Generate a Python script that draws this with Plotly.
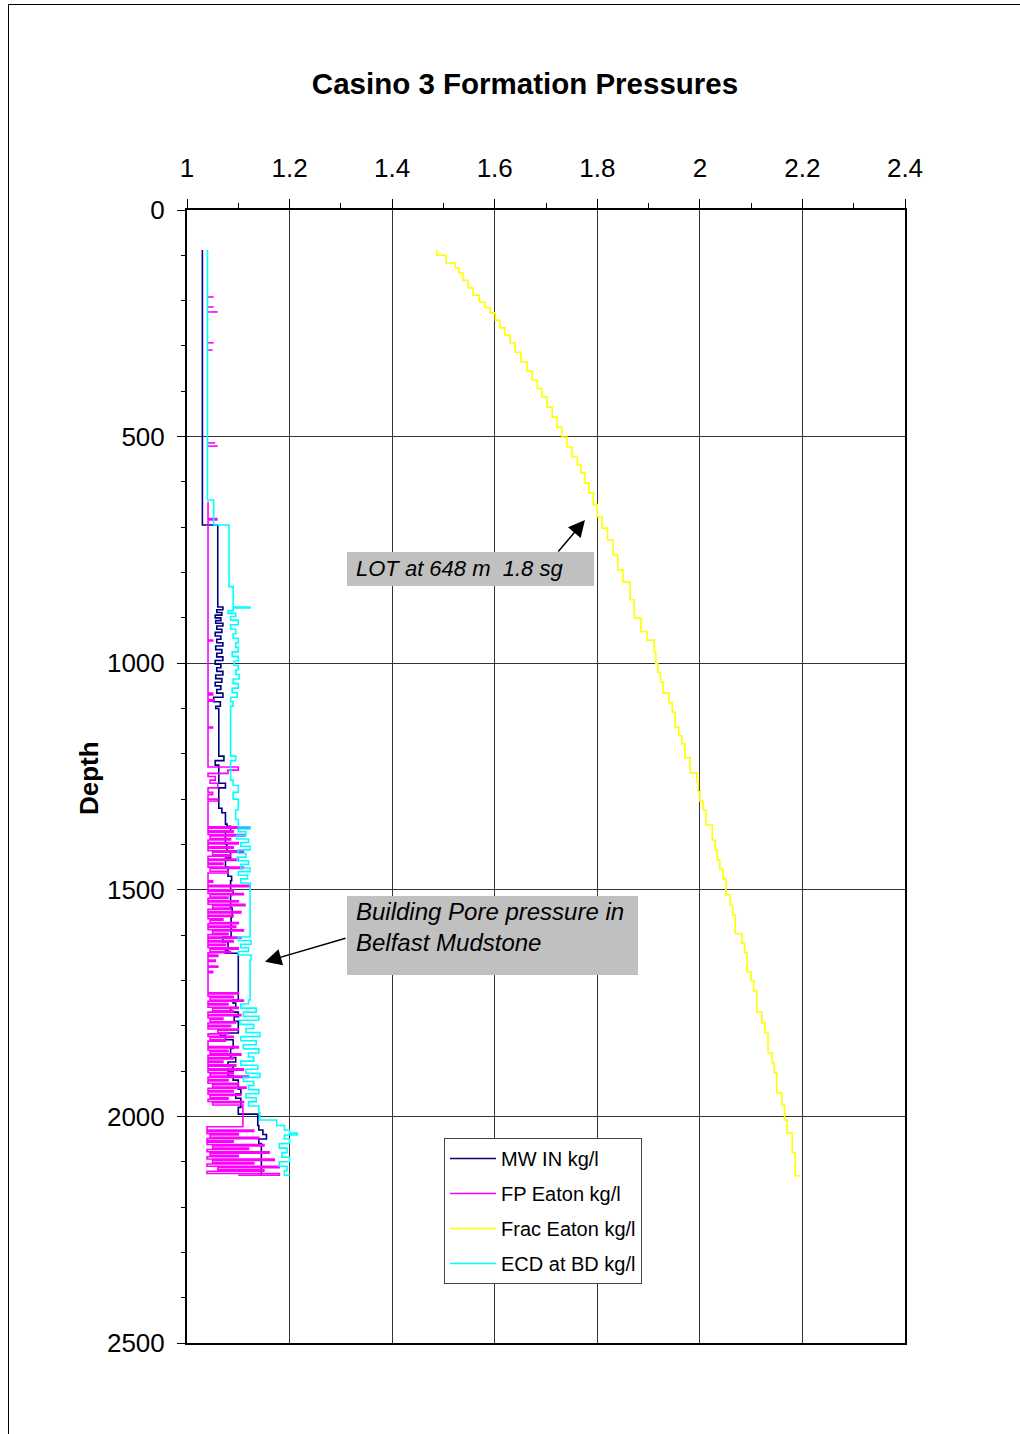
import plotly.graph_objects as go

FONT = "Arial, Liberation Sans, sans-serif"

# ---------------- data (depth m, value kg/l) ----------------
mw_depth = [88, 695, 695, 876, 882, 888, 894, 900, 906, 912, 918, 925, 932, 940, 947, 955, 962, 970, 978,
            986, 994, 1002, 1010, 1018, 1026, 1034, 1042, 1050, 1058, 1066, 1075, 1085, 1095, 1100, 1110,
            1200, 1205, 1215, 1225, 1260, 1265, 1275, 1320, 1330, 1355, 1360, 1370, 1400, 1415, 1430, 1450,
            1470, 1480, 1500, 1510, 1540, 1560, 1604, 1615, 1633, 1640, 1743, 1750, 1760, 1770, 1780, 1790,
            1816, 1822, 1831, 1850, 1870, 1880, 1890, 1900, 1910, 1920, 1940, 1950, 1960, 1980, 1995, 2020,
            2030, 2040, 2050, 2060, 2130]
mw_kgl = [1.03, 1.03, 1.06, 1.07, 1.058, 1.068, 1.055, 1.066, 1.056, 1.07, 1.058, 1.068, 1.055, 1.066, 1.058,
          1.07, 1.056, 1.068, 1.058, 1.07, 1.055, 1.066, 1.058, 1.07, 1.056, 1.068, 1.055, 1.066, 1.058, 1.07,
          1.052, 1.065, 1.056, 1.062, 1.062, 1.062, 1.072, 1.055, 1.062, 1.062, 1.075, 1.062, 1.068, 1.075,
          1.078, 1.085, 1.075, 1.078, 1.085, 1.075, 1.08, 1.087, 1.085, 1.09, 1.085, 1.088, 1.086, 1.07,
          1.08, 1.075, 1.10, 1.09, 1.095, 1.085, 1.10, 1.092, 1.10, 1.065, 1.075, 1.09, 1.085, 1.095, 1.08,
          1.09, 1.08, 1.09, 1.10, 1.105, 1.095, 1.105, 1.10, 1.138, 1.14, 1.148, 1.155, 1.14, 1.145, 1.145]

fp_depth = [192, 192, None, 214, 214, None, 225, 225, None, 293, 293, None, 309, 309, None,
            514, 514, None, 521, 521, None,
            644, 681, 684, 949, 951, 1066, 1070, 1081, 1084, 1141, 1143,
            1229, 1236, 1243, 1250, 1258, 1265, 1275, 1285, 1290, 1300, 1304,
            1361, 1364, 1370, 1373, 1378, 1381, 1387, 1390, 1396, 1399, 1405, 1408, 1414, 1417, 1423, 1426,
            1432, 1435, 1441, 1444, 1450, 1453, 1459, 1463, 1480, 1483, 1490, 1493,
            1500, 1503, 1508, 1511, 1516, 1519, 1524, 1527, 1532, 1535, 1540, 1543, 1548, 1551, 1556, 1559,
            1564, 1567, 1572, 1575, 1580, 1583, 1588, 1591, 1596, 1599, 1604, 1607, 1612, 1615, 1620, 1623,
            1628, 1631, 1636, 1639, 1644, 1647, 1655, 1658, 1668, 1671, 1680, 1683,
            1727, 1730, 1735, 1738, 1743, 1746, 1751, 1754, 1759, 1762, 1767, 1770, 1775, 1778, 1783, 1786,
            1791, 1794, 1799, 1802, 1807, 1810, 1815, 1818, 1823, 1826, 1831, 1834, 1846, 1849, 1854, 1857,
            1862, 1865, 1870, 1873, 1878, 1881, 1886, 1889,
            1895, 1898, 1903, 1906, 1911, 1914, 1919, 1922, 1927, 1930, 1935, 1938, 1943, 1946, 1951, 1954,
            1959, 1962, 1967, 1970, 1975, 2023,
            2030, 2033, 2038, 2041, 2046, 2049, 2054, 2057, 2062, 2065, 2070, 2073, 2078, 2081, 2086, 2089,
            2094, 2097, 2102, 2105, 2110, 2113, 2118, 2121, 2126, 2130]
fp_kgl = [1.04, 1.052, None, 1.04, 1.052, None, 1.04, 1.06, None, 1.04, 1.052, None, 1.04, 1.05, None,
          1.04, 1.055, None, 1.04, 1.06, None,
          1.041, 1.058, 1.041, 1.05, 1.041, 1.05, 1.041, 1.052, 1.041, 1.05, 1.041,
          1.10, 1.08, 1.041, 1.055, 1.045, 1.06, 1.041, 1.05, 1.041, 1.06, 1.041,
          1.123, 1.041, 1.09, 1.041, 1.113, 1.045, 1.085, 1.041, 1.10, 1.041, 1.09, 1.041, 1.11, 1.05, 1.084, 1.041,
          1.10, 1.041, 1.07, 1.041, 1.11, 1.045, 1.08, 1.041, 1.05, 1.041, 1.123, 1.041,
          1.09, 1.041, 1.11, 1.045, 1.08, 1.041, 1.10, 1.041, 1.113, 1.05, 1.085, 1.041, 1.105, 1.041, 1.09, 1.041,
          1.07, 1.045, 1.10, 1.041, 1.095, 1.041, 1.11, 1.05, 1.08, 1.041, 1.105, 1.041, 1.09, 1.041, 1.075, 1.041,
          1.10, 1.045, 1.085, 1.041, 1.06, 1.041, 1.055, 1.041, 1.06, 1.041, 1.05, 1.041,
          1.10, 1.041, 1.09, 1.045, 1.11, 1.041, 1.08, 1.041, 1.10, 1.05, 1.09, 1.041, 1.105, 1.041, 1.07, 1.045,
          1.095, 1.041, 1.085, 1.041, 1.10, 1.06, 1.08, 1.041, 1.09, 1.045, 1.075, 1.041, 1.10, 1.041, 1.08, 1.045,
          1.105, 1.041, 1.09, 1.041, 1.07, 1.041, 1.095, 1.041,
          1.11, 1.041, 1.09, 1.045, 1.12, 1.041, 1.08, 1.041, 1.10, 1.05, 1.115, 1.041, 1.09, 1.041, 1.105, 1.045,
          1.08, 1.041, 1.11, 1.05, 1.109, 1.039,
          1.13, 1.039, 1.10, 1.045, 1.14, 1.039, 1.09, 1.039, 1.15, 1.05, 1.12, 1.039, 1.16, 1.045, 1.10, 1.039,
          1.17, 1.05, 1.13, 1.039, 1.18, 1.06, 1.15, 1.039, 1.18, 1.10]

frac_depth = [88, 100, 117, 128, 139, 155, 172, 188, 203, 215, 227, 243, 260, 276, 293, 314, 335, 355, 375,
              394, 413, 435, 457, 479, 501, 523, 545, 562, 580, 602, 624, 650, 677, 702, 728, 761, 794, 821,
              860, 900, 930, 949, 975, 1000, 1020, 1041, 1066, 1087, 1108, 1141, 1160, 1178, 1209, 1242,
              1262, 1284, 1304, 1324, 1357, 1390, 1412, 1434, 1455, 1476, 1511, 1534, 1556, 1597, 1618, 1639,
              1681, 1700, 1723, 1770, 1793, 1816, 1860, 1882, 1904, 1948, 1975, 2008, 2037, 2080, 2131]
frac_kgl = [1.487, 1.505, 1.523, 1.530, 1.538, 1.548, 1.558, 1.570, 1.581, 1.591, 1.601, 1.610, 1.620,
            1.630, 1.640, 1.651, 1.663, 1.673, 1.683, 1.692, 1.702, 1.712, 1.722, 1.731, 1.741, 1.751, 1.761,
            1.768, 1.776, 1.784, 1.792, 1.800, 1.809, 1.820, 1.831, 1.840, 1.850, 1.864, 1.872, 1.885, 1.897,
            1.911, 1.914, 1.918, 1.923, 1.928, 1.940, 1.946, 1.952, 1.959, 1.965, 1.971, 1.981, 1.994, 1.997,
            2.000, 2.006, 2.012, 2.024, 2.030, 2.034, 2.039, 2.045, 2.051, 2.059, 2.064, 2.069, 2.082, 2.087,
            2.092, 2.100, 2.105, 2.111, 2.121, 2.127, 2.133, 2.141, 2.145, 2.150, 2.160, 2.165, 2.170, 2.180,
            2.186, 2.195]

ecd_depth = [88, 640, 695, 831, 876, 878, 884, 890, 897, 905, 915, 925, 935, 945, 955, 965, 975, 985, 995,
             1005, 1015, 1025, 1035, 1045, 1055, 1065, 1075, 1085, 1095, 1200, 1205, 1215, 1258, 1270, 1285,
             1300, 1324, 1345, 1361, 1366, 1372, 1380, 1388, 1396, 1404, 1412, 1420, 1428, 1436, 1444, 1452,
             1460, 1468, 1476, 1485, 1494, 1604, 1612, 1620, 1628, 1636, 1644, 1655, 1743, 1752, 1761, 1770,
             1779, 1788, 1797, 1806, 1815, 1824, 1833, 1842, 1851, 1860, 1869, 1878, 1887, 1896, 1905, 1914,
             1923, 1932, 1941, 1950, 1959, 1968, 1977, 1992, 2008, 2020, 2030, 2037, 2041, 2050, 2060, 2070,
             2080, 2090, 2100, 2110, 2120, 2130]
ecd_kgl = [1.04, 1.052, 1.082, 1.09, 1.123, 1.09, 1.08, 1.095, 1.085, 1.10, 1.085, 1.095, 1.09, 1.10, 1.095,
           1.10, 1.088, 1.10, 1.092, 1.10, 1.095, 1.102, 1.09, 1.10, 1.088, 1.098, 1.085, 1.09, 1.085, 1.085,
           1.095, 1.085, 1.09, 1.10, 1.09, 1.10, 1.095, 1.10, 1.123, 1.10, 1.115, 1.097, 1.12, 1.105, 1.123,
           1.10, 1.115, 1.098, 1.12, 1.105, 1.123, 1.10, 1.118, 1.105, 1.123, 1.123, 1.10, 1.125, 1.105, 1.12,
           1.10, 1.125, 1.123, 1.12, 1.105, 1.135, 1.11, 1.14, 1.103, 1.13, 1.115, 1.142, 1.105, 1.135, 1.11,
           1.14, 1.12, 1.13, 1.105, 1.138, 1.115, 1.142, 1.11, 1.13, 1.12, 1.14, 1.115, 1.135, 1.12, 1.14,
           1.142, 1.175, 1.19, 1.20, 1.215, 1.19, 1.20, 1.18, 1.195, 1.185, 1.20, 1.18, 1.195, 1.19, 1.20, 1.20]

series_names = ["MW IN kg/l", "FP Eaton kg/l", "Frac Eaton kg/l", "ECD at BD kg/l"]
series_colors = ["#000080", "#FF00FF", "#FFFF00", "#00FFFF"]

x_ticks = [1, 1.2, 1.4, 1.6, 1.8, 2, 2.2, 2.4]
x_ticklabels = ["1", "1.2", "1.4", "1.6", "1.8", "2", "2.2", "2.4"]
y_ticks = [0, 500, 1000, 1500, 2000, 2500]

# ---------------- figure ----------------
fig = go.Figure()
all_series = [(mw_kgl, mw_depth), (fp_kgl, fp_depth), (frac_kgl, frac_depth), (ecd_kgl, ecd_depth)]
for i, (xs, ys) in enumerate(all_series):
    fig.add_trace(go.Scatter(
        x=xs, y=ys, mode="lines", name=series_names[i], legendgroup=series_names[i],
        line=dict(color=series_colors[i], width=1.6, shape="vh"), connectgaps=False,
    ))

L, R, T, B = 187, 115, 210, 91
W, H = 1020, 1434
pw, ph = W - L - R, H - T - B


def px2x(px):
    return (px - L) / pw


def py2y(py):
    return (H - B - py) / ph


fig.update_layout(
    width=W, height=H,
    margin=dict(l=L, r=R, t=T, b=B, pad=0),
    paper_bgcolor="white", plot_bgcolor="white",
    font=dict(family=FONT, color="black"),
    title=dict(text="<b>Casino 3 Formation Pressures</b>", x=525 / W, xref="container", xanchor="center",
               y=1 - 84 / H, yref="container", yanchor="middle", font=dict(size=29.5, family=FONT)),
    showlegend=True,
    legend=dict(x=px2x(444), y=py2y(1138), xanchor="left", yanchor="top", bgcolor="white",
                bordercolor="#444", borderwidth=1, font=dict(size=20, family=FONT),
                tracegroupgap=6, itemwidth=46, traceorder="grouped"),
)

fig.update_xaxes(
    range=[1, 2.4], side="top", tickvals=x_ticks, ticktext=x_ticklabels,
    tickfont=dict(size=26, family=FONT), ticks="outside", ticklen=9, tickwidth=1, tickcolor="black",
    showgrid=True, gridcolor="#333", gridwidth=1, zeroline=False,
    showline=True, linecolor="black", linewidth=2, mirror=True, ticklabelstandoff=12,
    minor=dict(dtick=0.1, ticks="outside", ticklen=5, tickcolor="black", showgrid=False),
)
fig.update_yaxes(
    range=[2500, 0], tickvals=y_ticks, tickfont=dict(size=26, family=FONT),
    ticks="outside", ticklen=8, tickwidth=1, tickcolor="black",
    showgrid=True, gridcolor="#333", gridwidth=1, zeroline=False,
    showline=True, linecolor="black", linewidth=2, mirror=True, ticklabelstandoff=7,
    minor=dict(dtick=100, ticks="outside", ticklen=4, tickcolor="black", showgrid=False),
)

# axis title
fig.add_annotation(text="<b>Depth</b>", x=px2x(72), y=py2y(778), xref="paper", yref="paper",
                   textangle=-90, showarrow=False, font=dict(size=26, family=FONT))

# outer chart frame
fig.add_shape(type="line", xref="paper", yref="paper", x0=px2x(8.5), x1=px2x(8.5), y0=py2y(4.5), y1=py2y(1440),
              line=dict(color="black", width=1))
fig.add_shape(type="line", xref="paper", yref="paper", x0=px2x(8.5), x1=px2x(1030), y0=py2y(4.5), y1=py2y(4.5),
              line=dict(color="black", width=1))

# text boxes
fig.add_shape(type="rect", xref="paper", yref="paper", x0=px2x(347), x1=px2x(594), y0=py2y(586), y1=py2y(552),
              fillcolor="#C0C0C0", line=dict(width=0), layer="above")
fig.add_annotation(text="<i>LOT at 648 m  1.8 sg</i>", x=px2x(354), y=py2y(568), xref="paper", yref="paper",
                   xanchor="left", yanchor="middle", showarrow=False, font=dict(size=22, family=FONT))
fig.add_shape(type="rect", xref="paper", yref="paper", x0=px2x(347), x1=px2x(638), y0=py2y(975), y1=py2y(896),
              fillcolor="#C0C0C0", line=dict(width=0), layer="above")
fig.add_annotation(text="<i>Building Pore pressure in<br>Belfast Mudstone</i>", x=px2x(354), y=py2y(927),
                   xref="paper", yref="paper", xanchor="left", yanchor="middle", align="left",
                   showarrow=False, font=dict(size=24, family=FONT))

# arrows
fig.add_annotation(x=1.776, y=684, ax=1.7215, ay=757, xref="x", yref="y", axref="x", ayref="y",
                   text="", showarrow=True, arrowhead=2, arrowsize=2.2, arrowwidth=1.5, arrowcolor="black")
fig.add_annotation(x=1.152, y=1659, ax=1.312, ay=1606, xref="x", yref="y", axref="x", ayref="y",
                   text="", showarrow=True, arrowhead=2, arrowsize=2.2, arrowwidth=1.5, arrowcolor="black")

fig.write_html("out.html", config={"displayModeBar": False},
               post_script="document.body.style.margin='0px';")
